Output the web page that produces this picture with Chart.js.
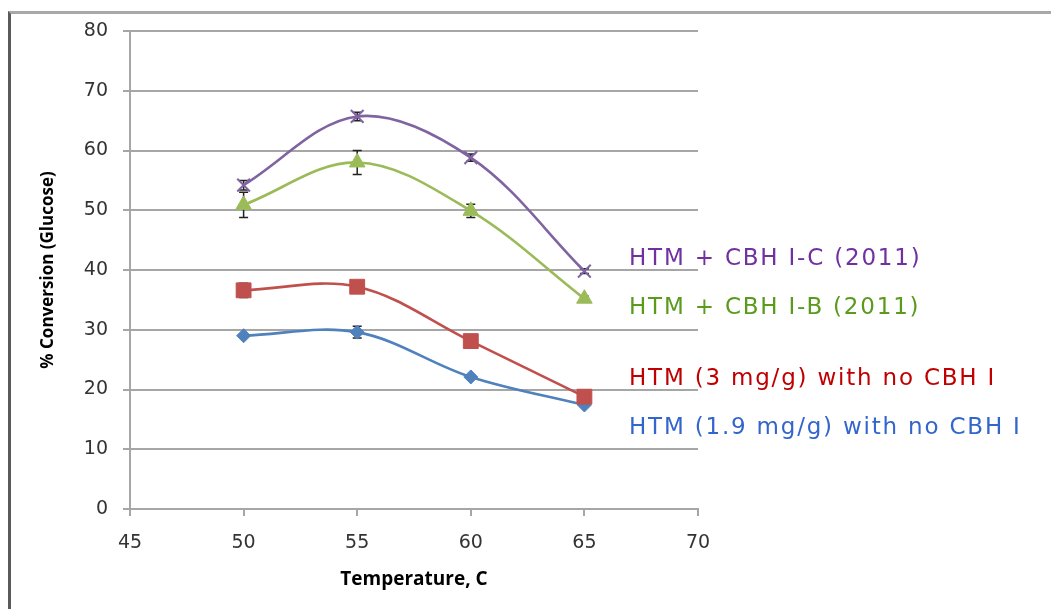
<!DOCTYPE html>
<html>
<head>
<meta charset="utf-8">
<script src="https://cdn.jsdelivr.net/npm/chart.js@4.4.1/dist/chart.umd.min.js"></script>
<style>
  body { margin: 0; background: #fff; }
  #wrap { position: relative; width: 1051px; height: 609px; overflow: hidden; }
  #frame { position: absolute; left: 8px; top: 11px; right: -4px; bottom: -4px;
           border-left: 3px solid #5a5a5a; border-top: 3px solid #a8a8a8; }
  #myChart { position: absolute; left: 0; top: 0; }
  .lab { position: absolute; left: 629px; font-family: "DejaVu Sans"; font-size: 23px;
         letter-spacing: 1.8px; line-height: 1; white-space: nowrap; }
</style>
</head>
<body>
<div id="wrap">
  <div id="frame"></div>
  <canvas id="myChart" width="1051" height="609"></canvas>
</div>
<script>
// data
const temps = [50, 55, 60, 65];
const seriesNames = ["HTM + CBH I-C (2011)", "HTM + CBH I-B (2011)", "HTM (3 mg/g) with no CBH I", "HTM (1.9 mg/g) with no CBH I"];
const cbhC = [54.2, 65.7, 58.8, 39.8];
const cbhCErr = [0.8, 0.7, 0.6, 0.4];
const cbhB = [50.9, 58.0, 49.9, 35.2];
const cbhBErr = [2.1, 2.0, 1.1, 0.4];
const htm3 = [36.6, 37.2, 28.1, 18.8];
const htm3Err = [1.2, 1.0, 0, 0];
const htm19 = [29.0, 29.6, 22.1, 17.4];
const htm19Err = [0, 1.0, 0, 0];
const xTicks = [45, 50, 55, 60, 65, 70];
const yTicks = [0, 10, 20, 30, 40, 50, 60, 70, 80];

const lineColors = ["#8064A2", "#9BBB59", "#C0504D", "#4F81BD"];
const textColors = ["#7030A0", "#5A9A1C", "#C00000", "#3366CC"];
const labelY = [257, 306, 377, 426]; // text centres, px

function pts(vals) {
  return temps.map(function (t, i) { return { x: t, y: vals[i] }; });
}

// error bars drawn under the lines and markers
const errorBars = {
  id: "errorBars",
  beforeDatasetsDraw(chart) {
    const ctx = chart.ctx;
    const xs = chart.scales.x, ys = chart.scales.y;
    ctx.save();
    ctx.strokeStyle = "#222";
    ctx.lineWidth = 1.5;
    chart.data.datasets.forEach(function (ds) {
      ds.data.forEach(function (p, i) {
        const e = ds.errors[i];
        if (!e) return;
        const x = xs.getPixelForValue(p.x);
        const y1 = ys.getPixelForValue(p.y + e);
        const y2 = ys.getPixelForValue(p.y - e);
        ctx.beginPath();
        ctx.moveTo(x, y1); ctx.lineTo(x, y2);
        ctx.moveTo(x - 4.5, y1); ctx.lineTo(x + 4.5, y1);
        ctx.moveTo(x - 4.5, y2); ctx.lineTo(x + 4.5, y2);
        ctx.stroke();
      });
    });
    ctx.restore();
  }
};

const tickFont = { family: "DejaVu Sans", size: 19 };
const gridColor = "#a6a6a6";

let ctx = document.getElementById("myChart").getContext("2d");
let myChart = new Chart(ctx, {
  type: "scatter",
  data: {
    datasets: [
      { label: seriesNames[0], data: pts(cbhC), errors: cbhCErr, pointStyle: "crossRot", pointRadius: 9, pointBorderWidth: 2 },
      { label: seriesNames[1], data: pts(cbhB), errors: cbhBErr, pointStyle: "triangle", pointRadius: 9, pointBorderWidth: 1 },
      { label: seriesNames[2], data: pts(htm3), errors: htm3Err, pointStyle: "rect", pointRadius: 10.5, pointBorderWidth: 1 },
      { label: seriesNames[3], data: pts(htm19), errors: htm19Err, pointStyle: "rectRot", pointRadius: 7, pointBorderWidth: 1 }
    ].map(function (ds, i) {
      ds.showLine = true;
      ds.tension = 0.35;
      ds.borderWidth = 2.6;
      ds.borderColor = lineColors[i];
      ds.backgroundColor = lineColors[i];
      ds.pointBorderColor = lineColors[i];
      ds.pointBackgroundColor = lineColors[i];
      return ds;
    })
  },
  options: {
    responsive: false,
    animation: false,
    layout: { padding: { left: 20, top: 31, right: 353, bottom: 16 } },
    plugins: { legend: { display: false }, tooltip: { enabled: false } },
    scales: {
      x: {
        type: "linear", min: 45, max: 70,
        afterBuildTicks: function (s) { s.ticks = xTicks.map(function (v) { return { value: v }; }); },
        afterFit: function (s) { s.height = 84; },
        grid: { drawOnChartArea: false, tickLength: 7, color: gridColor, lineWidth: 2 },
        border: { color: gridColor, width: 2 },
        ticks: { font: tickFont, color: "#333", padding: 16, maxRotation: 0 },
        title: { display: true, text: "Temperature, C", font: { family: "Open Sans", size: 19, weight: "bold" }, color: "#000", padding: { top: 0, bottom: 2 } }
      },
      y: {
        min: 0, max: 80,
        afterBuildTicks: function (s) { s.ticks = yTicks.map(function (v) { return { value: v }; }); },
        afterFit: function (s) { s.width = 110; },
        grid: { tickLength: 7, color: gridColor, lineWidth: 2 },
        border: { color: gridColor, width: 2 },
        ticks: { font: tickFont, color: "#333", padding: 15 },
        title: { display: true, text: "% Conversion (Glucose)", font: { family: "Open Sans", size: 17, weight: "bold" }, color: "#000", padding: { top: 18, bottom: 0 } }
      }
    }
  },
  plugins: [errorBars]
});

// series names written beside the curves
seriesNames.forEach(function (name, i) {
  let d = document.createElement("div");
  d.className = "lab";
  d.textContent = name;
  d.style.color = textColors[i];
  d.style.top = (labelY[i] - 11) + "px";
  document.getElementById("wrap").appendChild(d);
});
</script>
</body>
</html>
